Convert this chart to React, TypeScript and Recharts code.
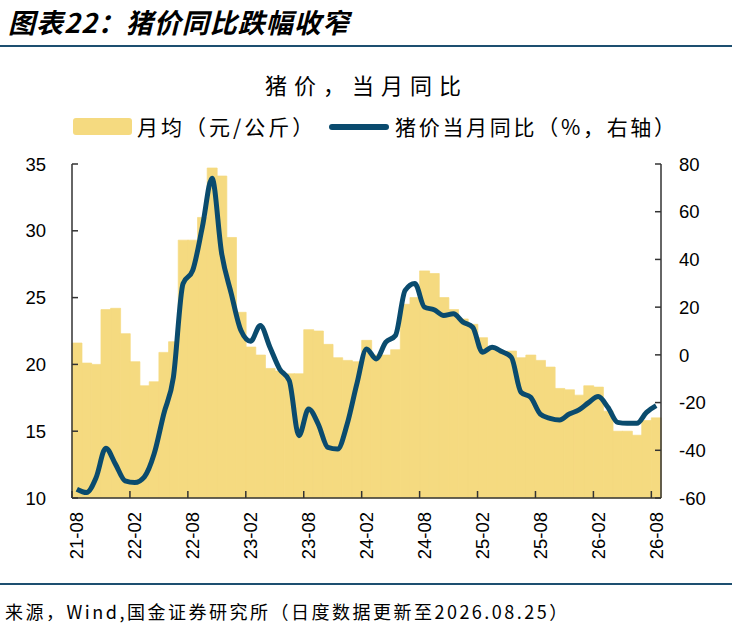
import { Bar, ComposedChart, Line, XAxis, YAxis } from "recharts";

const months = [
  "21-08", "21-09", "21-10", "21-11", "21-12",
  "22-01", "22-02", "22-03", "22-04", "22-05", "22-06", "22-07", "22-08", "22-09", "22-10", "22-11", "22-12",
  "23-01", "23-02", "23-03", "23-04", "23-05", "23-06", "23-07", "23-08", "23-09", "23-10", "23-11", "23-12",
  "24-01", "24-02", "24-03", "24-04", "24-05", "24-06", "24-07", "24-08", "24-09", "24-10", "24-11", "24-12",
  "25-01", "25-02", "25-03", "25-04", "25-05", "25-06", "25-07", "25-08", "25-09", "25-10", "25-11", "25-12",
  "26-01", "26-02", "26-03", "26-04", "26-05", "26-06", "26-07", "26-08",
];

// 月均（元/公斤）
const monthlyPrice = [
  21.6, 20.1, 20.0, 24.1, 24.2,
  22.3, 20.2, 18.4, 18.7, 20.9, 21.7, 29.3, 29.3, 31.0, 34.7, 34.1, 29.5,
  23.9, 21.3, 20.7, 19.7, 19.5, 19.3, 19.3, 22.6, 22.5, 21.5, 20.5, 20.3,
  20.2, 21.8, 20.7, 20.7, 21.1, 24.5, 25.0, 27.0, 26.8, 25.0, 24.1, 23.4,
  23.0, 22.0, 21.2, 20.9, 21.0, 20.5, 20.7, 20.3, 19.8, 18.2, 18.1, 17.7,
  18.4, 18.3, 16.5, 15.0, 15.0, 14.7, 15.8, 16.0,
];

// 猪价当月同比（%）
const yoy = [
  -56.3, -57.7, -51.4, -39.1, -45.8,
  -52.8, -53.5, -51.1, -41.6, -24.8, -9.4, 29.9, 35.4, 53.6, 74.0, 42.5, 25.6,
  10.2, 5.7, 12.3, 3.2, -5.9, -10.8, -33.9, -22.7, -29.0, -38.8, -39.5, -29.0,
  -12.2, 2.5, -1.7, 5.3, 8.1, 27.0, 29.9, 20.0, 18.9, 16.5, 17.2, 13.7,
  11.6, 1.1, 3.2, 1.4, -1.0, -15.7, -17.8, -24.8, -26.6, -27.3, -24.8, -23.1,
  -20.0, -17.5, -22.0, -28.3, -28.7, -28.7, -24.1, -21.3,
];

const leftTicks = [10, 15, 20, 25, 30, 35];
const rightTicks = [-60, -40, -20, 0, 20, 40, 60, 80];

const data = months.map((month, i) => ({
  month,
  price: monthlyPrice[i],
  yoy: yoy[i],
}));

const BAR_COLOR = "#F5DA80";
const LINE_COLOR = "#0A4B6E";
const RULE_COLOR = "#1D4F70";
const AXIS_COLOR = "#333333";
const NUM_FONT = "'Liberation Sans', Arial, sans-serif";
const CJK_FONT = "'Noto Sans CJK SC', 'Noto Sans', sans-serif";

function XTick(props: any) {
  const { x, y, payload } = props;
  const half = payload?.offset ?? 4.83;
  const tx = x - half;
  return (
    <g>
      <line x1={tx} x2={tx} y1={y} y2={y - 7} stroke={AXIS_COLOR} strokeWidth={1.5} />
      <text
        x={x}
        y={y + 14}
        transform={`rotate(-90, ${x}, ${y + 14})`}
        textAnchor="end"
        dy="0.36em"
        fontSize={18.5}
        fontFamily={NUM_FONT}
        fill="#000"
      >
        {payload.value}
      </text>
    </g>
  );
}

function LeftTick(props: any) {
  const { x, y, payload } = props;
  return (
    <g>
      <line x1={x} x2={x + 6} y1={y} y2={y} stroke={AXIS_COLOR} strokeWidth={1.5} />
      <text x={x - 26} y={y} dy="0.36em" textAnchor="end" fontSize={18.5} fontFamily={NUM_FONT} fill="#000">
        {payload.value}
      </text>
    </g>
  );
}

function RightTick(props: any) {
  const { x, y, payload } = props;
  return (
    <g>
      <line x1={x - 6} x2={x} y1={y} y2={y} stroke={AXIS_COLOR} strokeWidth={1.5} />
      <text x={x + 18} y={y} dy="0.36em" textAnchor="start" fontSize={18.5} fontFamily={NUM_FONT} fill="#000">
        {payload.value}
      </text>
    </g>
  );
}

export default function App() {
  return (
    <div
      style={{
        position: "absolute",
        left: 0,
        top: 0,
        width: 732,
        height: 626,
        background: "#fff",
        overflow: "hidden",
      }}
    >
      <div style={{ position: "absolute", left: 0, top: 0 }}>
        <ComposedChart
          width={732}
          height={626}
          data={data}
          margin={{ top: 164, right: 11, bottom: 58, left: 12 }}
          barCategoryGap={0}
          barGap={0}
        >
          <XAxis
            dataKey="month"
            interval={5}
            height={70}
            tickSize={0}
            tickMargin={0}
            tickLine={false}
            axisLine={{ stroke: AXIS_COLOR, strokeWidth: 1.5 }}
            tick={<XTick />}
          />
          <YAxis
            yAxisId="left"
            orientation="left"
            width={60}
            domain={[10, 35]}
            ticks={leftTicks}
            tickSize={0}
            tickMargin={0}
            tickLine={false}
            axisLine={{ stroke: AXIS_COLOR, strokeWidth: 1.5 }}
            tick={<LeftTick />}
          />
          <YAxis
            yAxisId="right"
            orientation="right"
            width={60}
            domain={[-60, 80]}
            ticks={rightTicks}
            tickSize={0}
            tickMargin={0}
            tickLine={false}
            axisLine={{ stroke: AXIS_COLOR, strokeWidth: 1.5 }}
            tick={<RightTick />}
          />
          <Bar
            yAxisId="left"
            dataKey="price"
            fill={BAR_COLOR}
            stroke={BAR_COLOR}
            strokeWidth={0.7}
            isAnimationActive={false}
          />
          <Line
            yAxisId="right"
            dataKey="yoy"
            type="monotone"
            stroke={LINE_COLOR}
            strokeWidth={5}
            dot={false}
            activeDot={false}
            isAnimationActive={false}
          />
        </ComposedChart>
      </div>

      <div
        style={{
          position: "absolute",
          left: 8,
          top: 7,
          fontFamily: CJK_FONT,
          fontSize: 27,
          lineHeight: "29px",
          fontWeight: 700,
          fontStyle: "italic",
          letterSpacing: 1,
          color: "#000",
          whiteSpace: "nowrap",
        }}
      >
        图表22：猪价同比跌幅收窄
      </div>
      <div style={{ position: "absolute", left: 0, top: 45, width: 732, height: 2, background: RULE_COLOR }} />

      <div
        style={{
          position: "absolute",
          left: 72,
          width: 589,
          top: 73,
          textAlign: "center",
          fontFamily: CJK_FONT,
          fontSize: 22,
          lineHeight: "22px",
          color: "#000",
          letterSpacing: 7,
          whiteSpace: "nowrap",
        }}
      >
        猪价，当月同比
      </div>

      <div
        style={{
          position: "absolute",
          left: 73,
          top: 118,
          width: 59,
          height: 17,
          borderRadius: 3,
          background: BAR_COLOR,
        }}
      />
      <div
        style={{
          position: "absolute",
          left: 137,
          top: 116,
          fontFamily: CJK_FONT,
          fontSize: 21,
          lineHeight: "21px",
          letterSpacing: 3,
          color: "#000",
          whiteSpace: "nowrap",
        }}
      >
        月均（元/公斤）
      </div>
      <div
        style={{
          position: "absolute",
          left: 329,
          top: 124,
          width: 60,
          height: 6,
          borderRadius: 3,
          background: LINE_COLOR,
        }}
      />
      <div
        style={{
          position: "absolute",
          left: 395,
          top: 116,
          fontFamily: CJK_FONT,
          fontSize: 21,
          lineHeight: "21px",
          letterSpacing: 2.7,
          color: "#000",
          whiteSpace: "nowrap",
        }}
      >
        猪价当月同比（%，右轴）
      </div>

      <div style={{ position: "absolute", left: 0, top: 583, width: 732, height: 2, background: RULE_COLOR }} />
      <div
        style={{
          position: "absolute",
          left: 5,
          top: 602,
          fontFamily: CJK_FONT,
          fontSize: 18,
          lineHeight: "18px",
          letterSpacing: 2.5,
          color: "#000",
          whiteSpace: "nowrap",
        }}
      >
        来源，Wind,国金证券研究所（日度数据更新至2026.08.25）
      </div>
    </div>
  );
}
